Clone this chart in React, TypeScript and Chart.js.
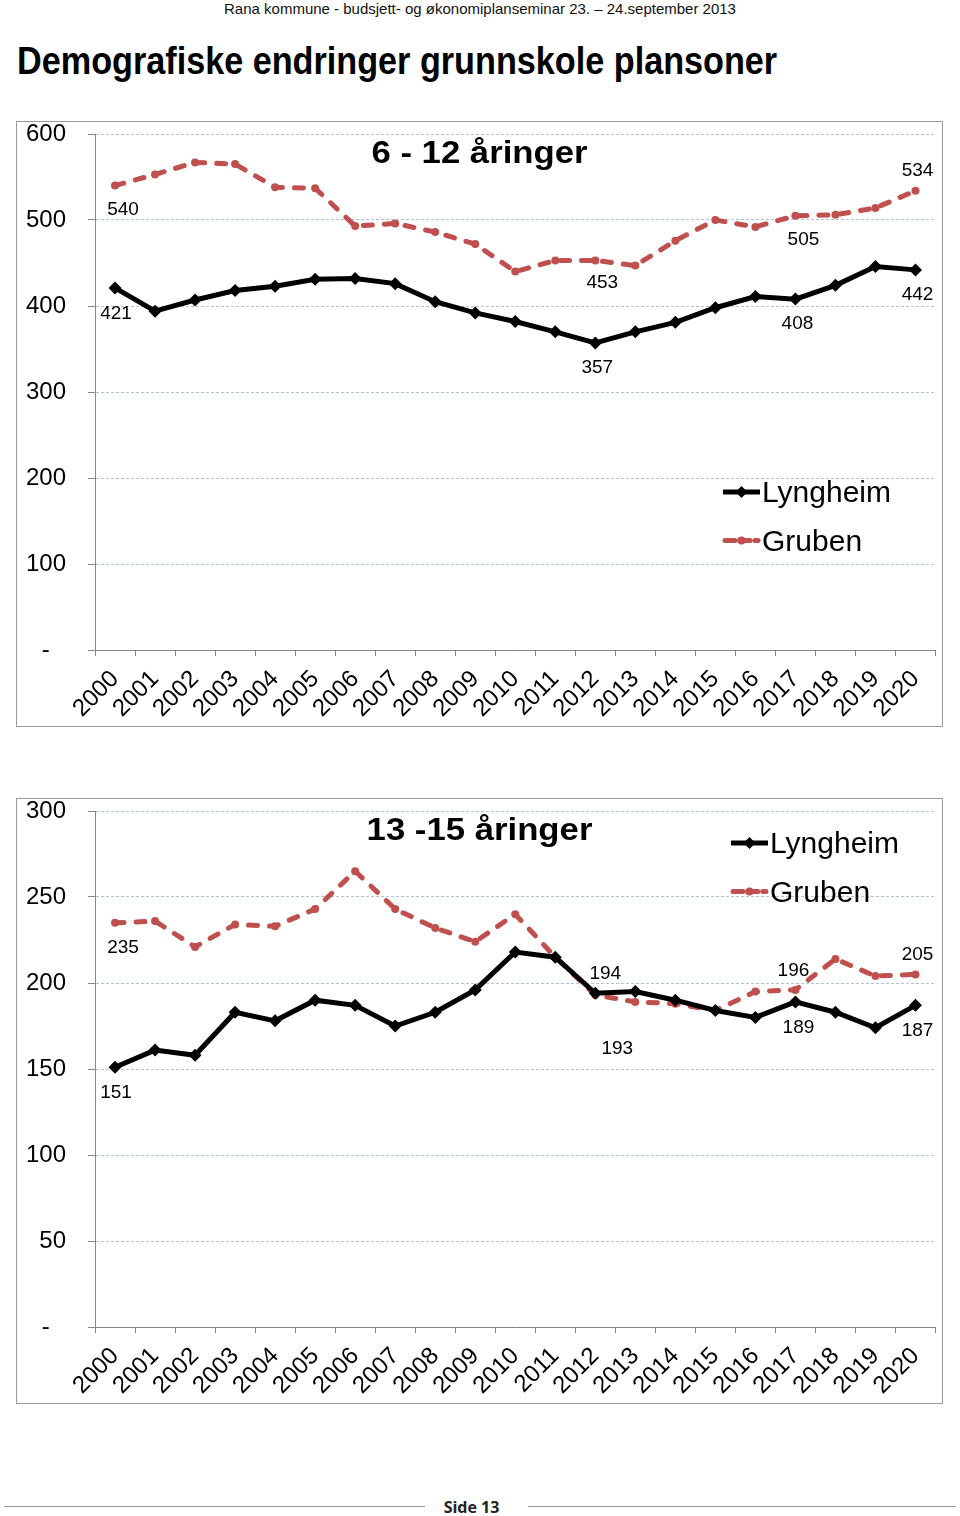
import React, { useEffect, useRef } from 'react';
import { Chart, registerables } from 'chart.js';

Chart.register(...registerables);

// ---------- data ----------
const YEARS = ['2000', '2001', '2002', '2003', '2004', '2005', '2006', '2007', '2008', '2009', '2010',
  '2011', '2012', '2013', '2014', '2015', '2016', '2017', '2018', '2019', '2020'];

const LYNGHEIM_6_12 = [421, 394, 407, 418, 423, 431, 432, 426, 405, 392, 382, 370, 357, 370, 381, 398, 411, 408, 424, 446, 442];
const GRUBEN_6_12 = [540, 553, 567, 565, 538, 537, 493, 496, 486, 472, 440, 453, 453, 447, 476, 500, 492, 505, 506, 514, 534];

const LYNGHEIM_13_15 = [151, 161, 158, 183, 178, 190, 187, 175, 183, 196, 218, 215, 194, 195, 190, 184, 180, 189, 183, 174, 187];
const GRUBEN_13_15 = [235, 236, 221, 234, 233, 243, 265, 243, 232, 224, 240, 215, 193, 189, 188, 184, 195, 196, 214, 204, 205];

const SERIES_NAMES = ['Lyngheim', 'Gruben'];
const TITLE_1 = '6 - 12 åringer';
const TITLE_2 = '13 -15 åringer';
const Y_MAX_1 = 600;
const Y_STEP_1 = 100;
const Y_MAX_2 = 300;
const Y_STEP_2 = 50;

// which points carry a value label (dataset index, point index)
const LABELLED_1 = [[1, 0], [0, 0], [1, 12], [0, 12], [1, 17], [0, 17], [1, 20], [0, 20]];
const LABELLED_2 = [[1, 0], [0, 0], [0, 12], [1, 12], [1, 17], [0, 17], [1, 20], [0, 20]];

// ---------- styles ----------
const FONT = "'Liberation Sans', Arial, Helvetica, sans-serif";
const RED = '#c0504d';
const AXIS = '#868686';
const GRID = '#b3c2d3';

// label offsets (pixels) relative to the point, same order as LABELLED_x
const OFFSETS_1 = [[8, 24], [1, 26], [7, 22], [2, 25], [8, 24], [2, 25], [2, -20], [2, 25]];
const OFFSETS_2 = [[8, 25], [1, 25], [10, -20], [22, 54], [-2, -19], [3, 26], [2, -20], [2, 25]];

type PanelProps = {
  top: number;
  title: string;
  lyngheim: number[];
  gruben: number[];
  yMax: number;
  yStep: number;
  labelled: number[][];
  offsets: number[][];
  legendX: number;
  legendY: number;
};

function makeOverlay(p: PanelProps) {
  return {
    id: 'overlay',
    afterDatasetsDraw(chart: any) {
      const ctx = chart.ctx;
      ctx.save();
      // value labels
      ctx.font = `19px ${FONT}`;
      ctx.fillStyle = '#000';
      ctx.textAlign = 'center';
      ctx.textBaseline = 'middle';
      p.labelled.forEach(([ds, i], k) => {
        const el = chart.getDatasetMeta(ds).data[i];
        const v = chart.data.datasets[ds].data[i];
        const [dx, dy] = p.offsets[k];
        ctx.fillText(String(v), el.x + dx, el.y + dy);
      });
      // title
      ctx.save();
      ctx.font = `bold 31px ${FONT}`;
      ctx.textAlign = 'center';
      ctx.textBaseline = 'alphabetic';
      ctx.translate(chart.width / 2, 41);
      ctx.scale(1.12, 1);
      ctx.fillText(p.title, 0, 0);
      ctx.restore();
      // legend
      chart.data.datasets.forEach((ds: any, k: number) => {
        const y = p.legendY + k * 48.5;
        const x0 = p.legendX;
        const x1 = x0 + 37;
        ctx.save();
        ctx.strokeStyle = ds.borderColor;
        ctx.lineWidth = 5;
        ctx.lineCap = k === 1 ? 'round' : 'butt';
        ctx.setLineDash(k === 1 ? [10, 5] : []);
        ctx.beginPath();
        ctx.moveTo(x0 + (k === 1 ? 2 : 0), y);
        ctx.lineTo(x1 - (k === 1 ? 2 : 0), y);
        ctx.stroke();
        ctx.setLineDash([]);
        ctx.fillStyle = ds.borderColor;
        const cx = (x0 + x1) / 2;
        ctx.beginPath();
        if (k === 0) {
          ctx.moveTo(cx, y - 6);
          ctx.lineTo(cx + 6, y);
          ctx.lineTo(cx, y + 6);
          ctx.lineTo(cx - 6, y);
          ctx.closePath();
        } else {
          ctx.arc(cx, y, 4, 0, Math.PI * 2);
        }
        ctx.fill();
        ctx.fillStyle = '#000';
        ctx.font = `30px ${FONT}`;
        ctx.textAlign = 'left';
        ctx.textBaseline = 'alphabetic';
        ctx.fillText(ds.label, x1 + 2, y + 10);
        ctx.restore();
      });
      ctx.restore();
    },
  };
}

function Panel(p: PanelProps) {
  const ref = useRef<HTMLCanvasElement | null>(null);
  useEffect(() => {
    if (!ref.current) return;
    const chart = new Chart(ref.current, {
      type: 'line',
      data: {
        labels: YEARS,
        datasets: [
          {
            label: SERIES_NAMES[0],
            data: p.lyngheim,
            borderColor: '#000',
            backgroundColor: '#000',
            borderWidth: 5,
            pointStyle: 'rectRot',
            pointRadius: 6.5,
            pointBorderWidth: 0,
            pointBackgroundColor: '#000',
            tension: 0,
          },
          {
            label: SERIES_NAMES[1],
            data: p.gruben,
            borderColor: RED,
            backgroundColor: RED,
            borderWidth: 5,
            borderDash: [9, 12],
            borderCapStyle: 'round',
            pointStyle: 'circle',
            pointRadius: 4,
            pointBorderWidth: 0,
            pointBackgroundColor: RED,
            tension: 0,
          },
        ],
      },
      options: {
        animation: false,
        responsive: true,
        maintainAspectRatio: false,
        layout: { padding: { top: 12, right: 4, left: 0, bottom: 0 } },
        plugins: {
          legend: { display: false },
          title: { display: false },
          tooltip: { enabled: false },
        },
        scales: {
          x: {
            offset: true,
            grid: {
              offset: true,
              drawOnChartArea: false,
              drawTicks: true,
              tickLength: 6,
              tickColor: AXIS,
              tickWidth: 1,
            },
            border: { color: AXIS, width: 1 },
            ticks: {
              autoSkip: false,
              minRotation: 45,
              maxRotation: 45,
              color: '#000',
              padding: 9,
              font: { family: FONT, size: 24 },
            },
            afterFit: (s: any) => { s.height = 76; s.paddingLeft = 0; s.paddingRight = 0; },
          },
          y: {
            min: 0,
            max: p.yMax,
            ticks: {
              stepSize: p.yStep,
              color: '#000',
              padding: 22,
              font: { family: FONT, size: 24 },
              callback: (v: any) => (Number(v) === 0 ? '- \u2009\u2009' : String(v)),
            },
            grid: {
              color: GRID,
              lineWidth: 1,
              drawTicks: true,
              tickLength: 7,
              tickColor: AXIS,
              tickBorderDash: [],
            },
            border: { color: AXIS, width: 1, dash: [3, 2] },
            afterFit: (s: any) => { s.width = 78; s.paddingTop = 0; s.paddingBottom = 0; },
          },
        },
      },
      plugins: [makeOverlay(p)],
    } as any);
    return () => chart.destroy();
  }, []);
  return (
    <div
      style={{
        position: 'absolute',
        left: 16,
        top: p.top,
        width: 927,
        height: 606,
        border: '1px solid #9a9a9a',
        boxSizing: 'border-box',
        background: '#fff',
      }}
    >
      <div style={{ position: 'relative', width: 925, height: 604 }}>
        <canvas ref={ref} />
      </div>
    </div>
  );
}

export default function App() {
  return (
    <div
      style={{
        position: 'absolute',
        left: 0,
        top: 0,
        width: 960,
        height: 1516,
        background: '#fff',
        overflow: 'hidden',
        fontFamily: FONT,
      }}
    >
      <div
        style={{
          position: 'absolute',
          top: 0,
          left: 0,
          width: 960,
          textAlign: 'center',
          fontSize: 15,
          lineHeight: '17px',
          color: '#111',
        }}
      >
        Rana kommune - budsjett- og økonomiplanseminar 23. – 24.september 2013
      </div>
      <div
        style={{
          position: 'absolute',
          top: 40,
          left: 17,
          fontSize: 38,
          fontWeight: 'bold',
          lineHeight: '42px',
          whiteSpace: 'nowrap',
          transform: 'scaleX(0.9)',
          transformOrigin: 'left top',
          color: '#000',
        }}
      >
        Demografiske endringer grunnskole plansoner
      </div>

      <Panel
        top={121}
        title={TITLE_1}
        lyngheim={LYNGHEIM_6_12}
        gruben={GRUBEN_6_12}
        yMax={Y_MAX_1}
        yStep={Y_STEP_1}
        labelled={LABELLED_1}
        offsets={OFFSETS_1}
        legendX={706}
        legendY={370}
      />
      <Panel
        top={798}
        title={TITLE_2}
        lyngheim={LYNGHEIM_13_15}
        gruben={GRUBEN_13_15}
        yMax={Y_MAX_2}
        yStep={Y_STEP_2}
        labelled={LABELLED_2}
        offsets={OFFSETS_2}
        legendX={714}
        legendY={44}
      />

      <div style={{ position: 'absolute', top: 1506, left: 4, width: 421, height: 0, borderTop: '1.5px solid #9a9a9a' }} />
      <div style={{ position: 'absolute', top: 1506, left: 528, width: 428, height: 0, borderTop: '1.5px solid #9a9a9a' }} />
      <div
        style={{
          position: 'absolute',
          top: 1497,
          left: 420,
          width: 103,
          textAlign: 'center',
          fontFamily: "'Open Sans', 'Noto Sans', sans-serif",
          fontWeight: 'bold',
          fontSize: 16,
          lineHeight: '20px',
          color: '#222',
        }}
      >
        Side 13
      </div>
    </div>
  );
}
